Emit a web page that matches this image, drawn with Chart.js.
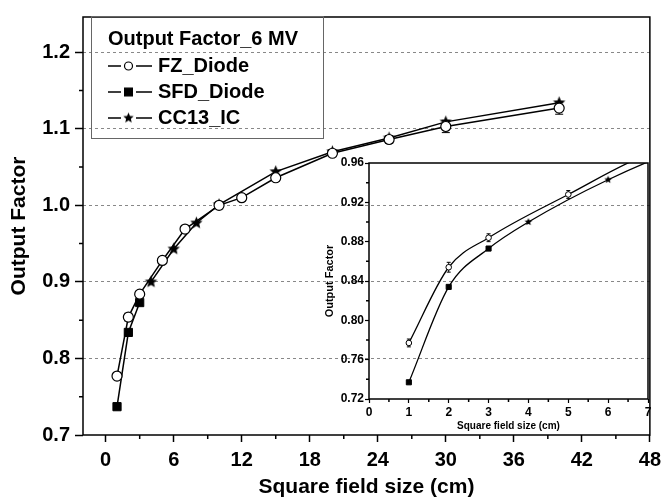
<!DOCTYPE html>
<html>
<head>
<meta charset="utf-8">
<script src="https://cdn.jsdelivr.net/npm/chart.js@4.4.1/dist/chart.umd.min.js"></script>
<style>
  html, body { margin: 0; padding: 0; background: #fff; }
  #wrap { position: relative; width: 667px; height: 500px; }
  #main { position: absolute; left: 0; top: 0; }
  #inset { position: absolute; left: 315px; top: 150px; }
</style>
</head>
<body>
<div id="wrap">
  <canvas id="main" width="667" height="500"></canvas>
  <canvas id="inset" width="345" height="290"></canvas>
</div>
<script>
// Dados (fator de saída 6 MV)
const fzX = [1, 2, 3, 5, 7, 10, 12, 15, 20, 25, 30, 40];
const fzY = [0.777, 0.854, 0.884, 0.928, 0.969, 1.000, 1.010, 1.036, 1.068, 1.086, 1.103, 1.127];
const fzErr = [0.004, 0.005, 0.004, 0.004, 0.004, 0.004, 0.004, 0.004, 0.004, 0.005, 0.008, 0.008];
const sfdX = [1, 2, 3];
const sfdY = [0.737, 0.834, 0.873];
const ccX = [4, 6, 8, 10, 15, 20, 25, 30, 40];
const ccY = [0.900, 0.943, 0.977, 1.001, 1.044, 1.070, 1.088, 1.109, 1.134];

// Ticks
const mainXTicks = [0, 6, 12, 18, 24, 30, 36, 42, 48];
const mainXMinor = [3, 9, 15, 21, 27, 33, 39, 45];
const mainYTicks = [0.7, 0.8, 0.9, 1.0, 1.1, 1.2];
const mainYMinor = [0.75, 0.85, 0.95, 1.05, 1.15];
const insetXTicks = [0, 1, 2, 3, 4, 5, 6, 7];
const insetXMinor = [0.5, 1.5, 2.5, 3.5, 4.5, 5.5, 6.5];
const insetYTicks = [0.72, 0.76, 0.80, 0.84, 0.88, 0.92, 0.96];
const insetYMinor = [0.74, 0.78, 0.82, 0.86, 0.90, 0.94];

const FONT = "'Liberation Sans', Arial, Helvetica, sans-serif";
Chart.defaults.font.family = FONT;
Chart.defaults.color = '#000';

function pts(xs, ys) { return xs.map((x, i) => ({ x: x, y: ys[i] })); }

// estrela preenchida de 5 pontas
function starCanvas(r) {
    const s = Math.ceil(r * 2 + 2);
    const c = document.createElement('canvas');
    c.width = s; c.height = s;
    const g = c.getContext('2d');
    g.beginPath();
    for (let i = 0; i < 10; i++) {
        const a = -Math.PI / 2 + i * Math.PI / 5;
        const rr = i % 2 ? r * 0.45 : r;
        g.lineTo(s / 2 + rr * Math.cos(a), s / 2 + rr * Math.sin(a));
    }
    g.closePath();
    g.fillStyle = '#000';
    g.fill();
    return c;
}
const starBig = starCanvas(6.5);
const starSmall = starCanvas(4);
const starLegend = starCanvas(5.5);

// Plugins
const framePlugin = {
    id: 'frame',
    afterDraw(chart) {
        const a = chart.chartArea, ctx = chart.ctx;
        ctx.save();
        ctx.strokeStyle = '#000';
        ctx.lineWidth = 1.5;
        ctx.strokeRect(a.left, a.top, a.right - a.left, a.bottom - a.top);
        ctx.restore();
    }
};

const minorTicksPlugin = {
    id: 'minorTicks',
    afterDraw(chart, args, opts) {
        const ctx = chart.ctx;
        const xs = chart.scales.x, ys = chart.scales.y;
        ctx.save();
        ctx.strokeStyle = '#000';
        ctx.lineWidth = 1.5;
        ctx.beginPath();
        (opts.x || []).forEach(v => {
            const px = xs.getPixelForValue(v);
            ctx.moveTo(px, xs.top); ctx.lineTo(px, xs.top + opts.len);
        });
        (opts.y || []).forEach(v => {
            const py = ys.getPixelForValue(v);
            ctx.moveTo(ys.right, py); ctx.lineTo(ys.right - opts.len, py);
        });
        ctx.stroke();
        ctx.restore();
    }
};

const errorBarsPlugin = {
    id: 'errorBars',
    beforeDatasetsDraw(chart, args, opts) {
        const ctx = chart.ctx;
        const xs = chart.scales.x, ys = chart.scales.y;
        const a = chart.chartArea;
        ctx.save();
        ctx.beginPath();
        ctx.rect(a.left, a.top, a.right - a.left, a.bottom - a.top);
        ctx.clip();
        ctx.strokeStyle = '#000';
        ctx.lineWidth = 1;
        chart.data.datasets.forEach(ds => {
            if (!ds.errorBars) return;
            ds.data.forEach((p, i) => {
                const e = ds.errorBars[i];
                const px = xs.getPixelForValue(p.x);
                const y1 = ys.getPixelForValue(p.y - e), y2 = ys.getPixelForValue(p.y + e);
                ctx.beginPath();
                ctx.moveTo(px, y1); ctx.lineTo(px, y2);
                ctx.moveTo(px - opts.cap, y1); ctx.lineTo(px + opts.cap, y1);
                ctx.moveTo(px - opts.cap, y2); ctx.lineTo(px + opts.cap, y2);
                ctx.stroke();
            });
        });
        ctx.restore();
    }
};

const legendBoxPlugin = {
    id: 'legendBox',
    afterDraw(chart, args, opts) {
        const ctx = chart.ctx;
        ctx.save();
        ctx.strokeStyle = '#666';
        ctx.lineWidth = 1;
        ctx.strokeRect(opts.left + 0.5, opts.top + 0.5, opts.width, opts.height);
        ctx.fillStyle = '#000';
        ctx.font = 'bold 20px ' + FONT;
        ctx.textBaseline = 'middle';
        ctx.textAlign = 'left';
        ctx.fillText(opts.title, opts.left + 17, opts.top + 23);
        chart.data.datasets.forEach((ds, i) => {
            const y = opts.top + 50 + i * 26;
            const x0 = opts.left + 17;
            ctx.strokeStyle = '#000';
            ctx.lineWidth = 1.5;
            ctx.beginPath();
            ctx.moveTo(x0, y); ctx.lineTo(x0 + 13, y);
            ctx.moveTo(x0 + 28, y); ctx.lineTo(x0 + 44, y);
            ctx.stroke();
            ctx.fillStyle = ds.pointBackgroundColor;
            ctx.strokeStyle = '#000';
            ctx.lineWidth = 1.2;
            Chart.helpers.drawPoint(ctx, {
                pointStyle: ds.legendStyle || ds.pointStyle,
                rotation: 0,
                radius: ds.legendRadius,
                borderWidth: 1.2
            }, x0 + 20.5, y);
            ctx.fillStyle = '#000';
            ctx.fillText(ds.label, x0 + 50, y);
        });
        ctx.restore();
    }
};

// Gráfico principal
new Chart(document.getElementById('main'), {
    type: 'scatter',
    data: {
        datasets: [
            {
                label: 'FZ_Diode',
                data: pts(fzX, fzY),
                errorBars: fzErr,
                showLine: true,
                borderColor: '#000',
                borderWidth: 1.5,
                pointStyle: 'circle',
                pointRadius: 5,
                legendRadius: 4,
                pointBackgroundColor: '#fff',
                pointBorderColor: '#000',
                pointBorderWidth: 1.2
            },
            {
                label: 'SFD_Diode',
                data: pts(sfdX, sfdY),
                showLine: true,
                borderColor: '#000',
                borderWidth: 1.5,
                pointStyle: 'rect',
                pointRadius: 5.8,
                legendRadius: 5.5,
                pointBackgroundColor: '#000',
                pointBorderColor: '#000',
                pointBorderWidth: 1
            },
            {
                label: 'CC13_IC',
                data: pts(ccX, ccY),
                showLine: true,
                borderColor: '#000',
                borderWidth: 1.5,
                pointStyle: starBig,
                legendStyle: starLegend,
                pointRadius: 6,
                legendRadius: 5,
                pointBackgroundColor: '#000',
                pointBorderColor: '#000'
            }
        ]
    },
    options: {
        responsive: false,
        animation: false,
        devicePixelRatio: 1,
        layout: { padding: { left: 0, right: 11, top: 12, bottom: 0 } },
        plugins: {
            legend: { display: false },
            tooltip: { enabled: false },
            minorTicks: { x: mainXMinor, y: mainYMinor, len: 4 },
            errorBars: { cap: 4 },
            legendBox: { left: 91, top: 16, width: 232, height: 122, title: 'Output Factor_6 MV' }
        },
        scales: {
            x: {
                type: 'linear',
                min: -2,
                max: 48,
                afterBuildTicks: s => { s.ticks = mainXTicks.map(v => ({ value: v })); },
                afterFit: s => { s.height = 65; },
                border: { display: false },
                grid: { drawOnChartArea: false, tickLength: 7, tickColor: '#000', tickWidth: 1.5 },
                ticks: {
                    padding: 6,
                    maxRotation: 0,
                    autoSkip: false,
                    font: { size: 20, weight: 'bold' },
                    callback: v => String(Math.round(v))
                },
                title: {
                    display: true,
                    text: 'Square field size (cm)',
                    font: { size: 21, weight: 'bold' },
                    padding: { top: 0, bottom: 0 }
                }
            },
            y: {
                type: 'linear',
                min: 0.7,
                max: 1.246,
                afterBuildTicks: s => { s.ticks = mainYTicks.map(v => ({ value: v })); },
                afterFit: s => { s.width = 83; },
                border: { display: false, dash: [3, 3] },
                grid: {
                    color: ctx => (ctx.tick && ctx.tick.value <= 0.7001) ? 'rgba(0,0,0,0)' : '#888',
                    lineWidth: 1,
                    tickBorderDash: [0, 0],
                    tickLength: 8,
                    tickColor: '#000',
                    tickWidth: 1.5
                },
                ticks: {
                    padding: 5,
                    autoSkip: false,
                    font: { size: 20, weight: 'bold' },
                    callback: v => v.toFixed(1)
                },
                title: {
                    display: true,
                    text: 'Output Factor',
                    font: { size: 21, weight: 'bold' },
                    padding: { top: 7, bottom: 0 }
                }
            }
        }
    },
    plugins: [framePlugin, minorTicksPlugin, errorBarsPlugin, legendBoxPlugin]
});

// Gráfico inserido (zoom em campos pequenos)
new Chart(document.getElementById('inset'), {
    type: 'scatter',
    data: {
        datasets: [
            {
                label: 'FZ_Diode',
                data: pts(fzX, fzY),
                errorBars: fzErr,
                showLine: false,
                pointStyle: 'circle',
                pointRadius: 2.8,
                pointBackgroundColor: '#fff',
                pointBorderColor: '#000',
                pointBorderWidth: 1
            },
            {
                label: 'SFD_Diode',
                data: pts(sfdX, sfdY),
                showLine: false,
                pointStyle: 'rect',
                pointRadius: 3.6,
                pointBackgroundColor: '#000',
                pointBorderColor: '#000',
                pointBorderWidth: 1
            },
            {
                label: 'CC13_IC',
                data: pts(ccX, ccY),
                showLine: false,
                pointStyle: starSmall,
                pointRadius: 4,
                pointBackgroundColor: '#000'
            },
            {
                label: 'FZ fit',
                data: pts(fzX, fzY),
                showLine: true,
                pointRadius: 0,
                borderColor: '#000',
                borderWidth: 1.3,
                cubicInterpolationMode: 'monotone'
            },
            {
                label: 'SFD/CC13 fit',
                data: pts(sfdX.concat(ccX), sfdY.concat(ccY)),
                showLine: true,
                pointRadius: 0,
                borderColor: '#000',
                borderWidth: 1.3,
                cubicInterpolationMode: 'monotone'
            }
        ]
    },
    options: {
        responsive: false,
        animation: false,
        devicePixelRatio: 1,
        layout: { padding: { left: 0, right: 12, top: 13, bottom: 0 } },
        plugins: {
            legend: { display: false },
            tooltip: { enabled: false },
            minorTicks: { x: insetXMinor, y: insetYMinor, len: 3 },
            errorBars: { cap: 2 }
        },
        scales: {
            x: {
                type: 'linear',
                min: 0,
                max: 7,
                afterBuildTicks: s => { s.ticks = insetXTicks.map(v => ({ value: v })); },
                afterFit: s => { s.height = 41; },
                border: { display: false },
                grid: { drawOnChartArea: false, tickLength: 4, tickColor: '#000', tickWidth: 1.2 },
                ticks: {
                    padding: 2,
                    maxRotation: 0,
                    autoSkip: false,
                    font: { size: 12, weight: 'bold' },
                    callback: v => String(Math.round(v))
                },
                title: {
                    display: true,
                    text: 'Square field size (cm)',
                    font: { size: 10, weight: 'bold' },
                    padding: { top: 0, bottom: 8 }
                }
            },
            y: {
                type: 'linear',
                min: 0.72,
                max: 0.96,
                afterBuildTicks: s => { s.ticks = insetYTicks.map(v => ({ value: v })); },
                afterFit: s => { s.width = 54; },
                border: { display: false },
                grid: { drawOnChartArea: false, tickLength: 4, tickColor: '#000', tickWidth: 1.2 },
                ticks: {
                    padding: 1,
                    autoSkip: false,
                    font: { size: 12, weight: 'bold' },
                    callback: v => v.toFixed(2)
                },
                title: {
                    display: true,
                    text: 'Output Factor',
                    font: { size: 11, weight: 'bold' },
                    padding: { top: 8, bottom: 0 }
                }
            }
        }
    },
    plugins: [framePlugin, minorTicksPlugin, errorBarsPlugin]
});
</script>
</body>
</html>
